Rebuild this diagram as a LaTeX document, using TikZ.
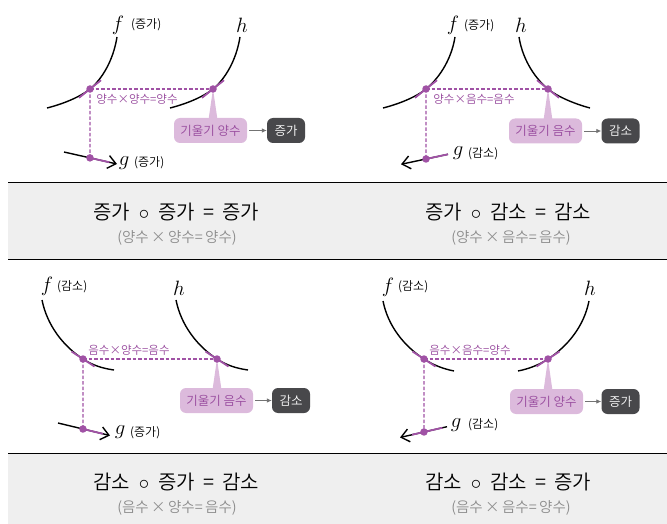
\documentclass[tikz,border=0pt]{standalone}
\usepackage{fontspec}
\setmainfont{Noto Sans CJK KR}
\newfontfamily\lightcjk{Noto Sans CJK KR DemiLight}
\usetikzlibrary{arrows.meta,calc}
\definecolor{pur}{RGB}{160,82,165}
\definecolor{purtxt}{RGB}{150,72,156}
\definecolor{pinkc}{RGB}{220,186,220}
\definecolor{darkc}{RGB}{72,72,75}
\definecolor{bandc}{RGB}{239,239,239}
\definecolor{subc}{RGB}{140,140,140}
\begin{document}
\begin{tikzpicture}[x=1pt,y=-1pt,
  curve/.style={line width=1.4pt,black},
  tan/.style={line width=1.8pt,pur},
  guide/.style={pur,line width=1.2pt,dash pattern=on 3.5pt off 2pt},
  dot/.style={circle,fill=pur,inner sep=0pt,minimum size=7.5pt},
  midlbl/.style={text=purtxt,font=\lightcjk\fontsize{11.5}{12}\selectfont,inner sep=0pt},
  call/.style={fill=pinkc,text=purtxt,rounded corners=6pt,minimum width=73pt,minimum height=25pt,inner sep=0pt,font=\lightcjk\fontsize{12.5}{14}\selectfont},
  res/.style={fill=darkc,text=white,rounded corners=6pt,minimum width=38pt,minimum height=25pt,inner sep=0pt,font=\lightcjk\fontsize{12.5}{14}\selectfont},
  fun/.style={font=\fontsize{21}{21}\selectfont,inner sep=0pt},
  paren/.style={font=\lightcjk\fontsize{12}{13}\selectfont,inner sep=0pt,anchor=west},
  ttl/.style={font=\lightcjk\fontsize{20}{22}\selectfont,inner sep=0pt},
  subt/.style={text=subc,font=\lightcjk\fontsize{14.5}{16}\selectfont,inner sep=0pt},
  garr/.style={-{Latex[length=5pt,width=4.5pt]},black!55,line width=0.8pt,shorten <=2pt},
  gline/.style={line width=1.4pt,-{Straight Barb[length=8pt,width=13pt]}},
]
\useasboundingbox (0,0) rectangle (667,524);

% ---------- bands ----------
\fill[bandc] (8,183) rectangle (667,259.5);
\draw[line width=1pt] (8,183) -- (667,183);
\draw[line width=1pt] (8,259.5) -- (667,259.5);
\fill[bandc] (8,453) rectangle (667,524);
\draw[line width=1pt] (8,453) -- (667,453);

\node[ttl] (t1) at (176,212) {증가\hspace{0.45em}$\circ$\hspace{0.45em}증가\hspace{0.4em}=\hspace{0.4em}증가};
\node[subt] (s1) at (177,238) {(양수\,×\,양수=\,양수)};
\node[ttl] (t2) at (508,212) {증가\hspace{0.45em}$\circ$\hspace{0.45em}감소\hspace{0.4em}=\hspace{0.4em}감소};
\node[subt] (s2) at (511,238) {(양수\,×\,음수=\,음수)};
\node[ttl] (t3) at (176,482) {감소\hspace{0.45em}$\circ$\hspace{0.45em}증가\hspace{0.4em}=\hspace{0.4em}감소};
\node[subt] (s3) at (177,508) {(음수\,×\,양수=\,음수)};
\node[ttl] (t4) at (508,482) {감소\hspace{0.45em}$\circ$\hspace{0.45em}감소\hspace{0.4em}=\hspace{0.4em}증가};
\node[subt] (s4) at (511,508) {(음수\,×\,음수=\,양수)};

% ---------- panel 1 ----------
\coordinate (fP1) at (90,89);
\coordinate (hP1) at (213,89);
\coordinate (gS1) at (64,152);
\coordinate (gT1) at (117,164);
\coordinate (gP1) at ($(gS1)!0.49!(gT1)$);
\draw[curve] (47,108) .. controls (63,104) and (80,97) .. (fP1) .. controls (101,80) and (113,62) .. (117,37);
\draw[curve] (170,108) .. controls (186,104) and (203,97) .. (hP1) .. controls (224,80) and (236,62) .. (240,37);
\draw[tan] ($(fP1)+(-11,8.8)$) -- ($(fP1)+(11,-8.8)$);
\draw[tan] ($(hP1)+(-11,8.8)$) -- ($(hP1)+(11,-8.8)$);
\draw[guide] (fP1) -- (hP1);
\draw[guide] (fP1) -- (gP1);
\draw[gline] (gS1) -- (gT1);
\draw[tan] (gP1) -- ($(gP1)!0.72!(gT1)$);
\node[midlbl] (m1) at (137,99.5) {양수×양수=양수};
\node[call] (c1) at (210.5,130.5) {기울기 양수};
\fill[pinkc] ($(hP1|-c1.north)+(-4.5,2)$) -- ($(hP1|-c1.north)+(4.5,2)$) -- (hP1) -- cycle;
\node[res] (r1) at (286,130.5) {증가};
\draw[garr] (c1) -- (r1);
\node[dot] (fd1) at (fP1) {};
\node[dot] (hd1) at (hP1) {};
\node[dot] (gd1) at (gP1) {};
\node[fun] (fl1) at (118,25) {$f$};
\node[paren] (fp1) at (131,25) {(증가)};
\node[fun] (hl1) at (242,25) {$h$};
\node[fun] (gl1) at (124,163) {$g$};
\node[paren] (gp1) at (134,163) {(증가)};

% ---------- panel 2 ----------
\coordinate (fP2) at (426,89);
\coordinate (hP2) at (548,89);
\coordinate (gS2) at (448,154.3);
\coordinate (gT2) at (401,164.3);
\coordinate (gP2) at ($(gS2)!0.468!(gT2)$);
\draw[curve] (383,108) .. controls (399,104) and (416,97) .. (fP2) .. controls (437,80) and (451,62) .. (455,37);
\draw[curve] (519,37) .. controls (523,62) and (537,80) .. (hP2) .. controls (558,97) and (575,104) .. (590,108);
\draw[tan] ($(fP2)+(-11,8.8)$) -- ($(fP2)+(11,-8.8)$);
\draw[tan] ($(hP2)+(-11,-8.8)$) -- ($(hP2)+(11,8.8)$);
\draw[guide] (fP2) -- (hP2);
\draw[guide] (fP2) -- (gP2);
\draw[gline] (gS2) -- (gT2);
\draw[tan] (gS2) -- (gP2);
\node[midlbl] (m2) at (474,99.5) {양수×음수=음수};
\node[call] (c2) at (545.5,131) {기울기 음수};
\fill[pinkc] ($(hP2|-c2.north)+(-4.5,2)$) -- ($(hP2|-c2.north)+(4.5,2)$) -- (hP2) -- cycle;
\node[res] (r2) at (620.5,131) {감소};
\draw[garr] (c2) -- (r2);
\node[dot] (fd2) at (fP2) {};
\node[dot] (hd2) at (hP2) {};
\node[dot] (gd2) at (gP2) {};
\node[fun] (fl2) at (453,25) {$f$};
\node[paren] (fp2) at (464,26) {(증가)};
\node[fun] (hl2) at (521,25) {$h$};
\node[fun] (gl2) at (458,153) {$g$};
\node[paren] (gp2) at (468,154) {(감소)};

% ---------- panel 3 ----------
\coordinate (fP3) at (83,359);
\coordinate (hP3) at (217,359);
\coordinate (gS3) at (58,423);
\coordinate (gT3) at (110,435.5);
\coordinate (gP3) at ($(gS3)!0.48!(gT3)$);
\draw[curve] (42,300) .. controls (47,325) and (63,346) .. (fP3) .. controls (93,365.5) and (103,368.5) .. (114,370);
\draw[curve] (176,300) .. controls (181,325) and (197,346) .. (hP3) .. controls (227,365.5) and (237,368.5) .. (248,370);
\draw[tan] ($(fP3)+(-11.5,-7.5)$) -- ($(fP3)+(11.5,7.5)$);
\draw[tan] ($(hP3)+(-11.5,-7.5)$) -- ($(hP3)+(11.5,7.5)$);
\draw[guide] (fP3) -- (hP3);
\draw[guide] (fP3) -- (gP3);
\draw[gline] (gS3) -- (gT3);
\draw[tan] (gP3) -- ($(gP3)!0.74!(gT3)$);
\node[midlbl] (m3) at (129,350) {음수×양수=음수};
\node[call] (c3) at (216.5,400.5) {기울기 음수};
\fill[pinkc] ($(hP3|-c3.north)+(-4.5,2)$) -- ($(hP3|-c3.north)+(4.5,2)$) -- (hP3) -- cycle;
\node[res] (r3) at (291,400.5) {감소};
\draw[garr] (c3) -- (r3);
\node[dot] (fd3) at (fP3) {};
\node[dot] (hd3) at (hP3) {};
\node[dot] (gd3) at (gP3) {};
\node[fun] (fl3) at (47,286) {$f$};
\node[paren] (fp3) at (57,287) {(감소)};
\node[fun] (hl3) at (179,288) {$h$};
\node[fun] (gl3) at (120,432) {$g$};
\node[paren] (gp3) at (130,433) {(증가)};

% ---------- panel 4 ----------
\coordinate (fP4) at (424,359);
\coordinate (hP4) at (548,359);
\coordinate (gS4) at (447,426.7);
\coordinate (gT4) at (400,437.5);
\coordinate (gP4) at ($(gS4)!0.49!(gT4)$);
\draw[curve] (383,301) .. controls (388,326) and (404,346) .. (fP4) .. controls (434,365.5) and (444,369) .. (454,371);
\draw[curve] (518,371) .. controls (528,369) and (538,365.5) .. (hP4) .. controls (568,346) and (584,326) .. (589,301);
\draw[tan] ($(fP4)+(-11.5,-7.5)$) -- ($(fP4)+(11.5,7.5)$);
\draw[tan] ($(hP4)+(-11.5,7.5)$) -- ($(hP4)+(11.5,-7.5)$);
\draw[guide] (fP4) -- (hP4);
\draw[guide] (fP4) -- (gP4);
\draw[gline] (gS4) -- (gT4);
\draw[tan] ($(gP4)!0.8!(gS4)$) -- ($(gP4)!0.5!(gT4)$);
\node[midlbl] (m4) at (470,350) {음수×음수=양수};
\node[call] (c4) at (546.5,401.5) {기울기 양수};
\fill[pinkc] ($(hP4|-c4.north)+(-4.5,2)$) -- ($(hP4|-c4.north)+(4.5,2)$) -- (hP4) -- cycle;
\node[res] (r4) at (620.5,401.5) {증가};
\draw[garr] (c4) -- (r4);
\node[dot] (fd4) at (fP4) {};
\node[dot] (hd4) at (hP4) {};
\node[dot] (gd4) at (gP4) {};
\node[fun] (fl4) at (388,287) {$f$};
\node[paren] (fp4) at (398,287) {(감소)};
\node[fun] (hl4) at (590,288) {$h$};
\node[fun] (gl4) at (456,425) {$g$};
\node[paren] (gp4) at (468,425) {(감소)};
\end{tikzpicture}
\end{document}
